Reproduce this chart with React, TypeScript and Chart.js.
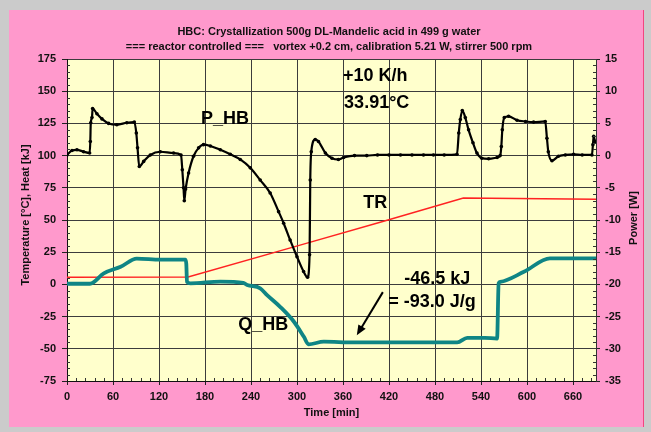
import { useEffect, useRef } from "react";
import { Chart, registerables } from "chart.js";

Chart.register(...registerables);

// ---- chart text ----
const titleLines = [
  "HBC: Crystallization 500g DL-Mandelic acid in 499 g water",
  "=== reactor controlled ===   vortex +0.2 cm, calibration 5.21 W, stirrer 500 rpm",
];
const xTitle = "Time [min]";
const leftTitle = "Temperature [°C], Heat [kJ]";
const rightTitle = "Power [W]";

// ---- axis ranges / tick steps ----
const timeRange = [0, 690];
const timeStep = 60;
const leftRange = [-75, 175];
const leftStep = 25;
const rightRange = [-35, 15];
const rightStep = 5;

// ---- P_HB: heat-flow power [W] (right axis) ----
const pTime = [
  0, 6.5, 13, 21.7, 29.5, 30.4, 31, 32.6, 33.4, 39, 45.6, 54.3, 65, 78, 87.8,
  90.4, 92, 94.3, 100, 108.6, 121.7, 139, 148.7, 150.4, 152, 153, 154.7, 158.6,
  165, 171.7, 178, 187, 200, 213, 226, 239, 252, 265, 276, 282.6, 291, 300,
  308.6, 313.8, 316.4, 317.3, 318.6, 323.8, 328, 337, 345.6, 354, 360.8, 375,
  391, 405, 420, 435, 450, 465, 478, 492, 508.7, 511, 513, 515.6, 519.5, 523.8,
  529.5, 534.7, 541, 550, 561, 565, 566.5, 567.8, 570.4, 576, 587, 598, 608.6,
  623.8, 626, 627.8, 632.6, 641, 650, 660.8, 672, 684.7, 686, 687, 688.7,
];
const pValue = [
  0.1, 0.8, 0.9, 0.6, 0.4, 2.2, 5.1, 5.9, 7.3, 6.5, 5.7, 5.0, 4.8, 5.1, 5.2,
  3.5, 1.2, -1.7, -0.9, 0.1, 0.6, 0.4, 0.1, -2.2, -5.0, -7.0, -5.2, -2.7,
  -0.1, 1.2, 1.7, 1.5, 0.9, 0.2, -0.6, -1.9, -3.8, -5.8, -8.7, -10.5, -13.1, -15.7,
  -18.0, -18.9, -15.4, -3.8, 0.6, 2.5, 2.2, 0.4, -0.4, -0.6, -0.3, 0.0,
  0.0, 0.1, 0.1, 0.1, 0.1, 0.1, 0.1, 0.1, 0.2, 3.5, 5.6, 7.0, 5.9, 4.0,
  2.0, 0.4, -0.4, -0.5, -0.3, 0.0, 1.4, 4.0, 5.9, 6.1, 5.5, 5.3, 5.2,
  5.3, 2.7, 0.6, -0.8, -0.1, 0.1, 0.2, 0.1, 0.1, 1.7, 3.0, 2.2,
];

// ---- TR: reactor temperature [°C] (left axis) ----
const trTime = [0, 158, 304, 413, 517, 690];
const trValue = [5.5, 5.8, 30.5, 49, 67, 66.2];

// ---- Q_HB: accumulated heat [kJ] (left axis) ----
const qTime = [
  0, 30, 48, 70, 91, 122, 154.3, 155.6, 156.5, 161, 200, 230, 235, 252, 261,
  278, 296, 309, 315, 335, 374, 440, 509, 522, 545, 561, 563, 565, 596, 630, 690,
];
const qValue = [
  0.5, 0.5, 8.6, 13.7, 20, 19.2, 19.2, 16, 2, 0.8, 2.2, 1.2, -0.5, -3, -8.3,
  -17.4, -29, -40.7, -46.5, -44.5, -45, -45, -45, -41.5, -41.5, -42, 0.8, 2, 9.8, 20.2, 20.2,
];

const FONT = '"Liberation Sans", Arial, Helvetica, sans-serif';
const GRID = "#3c3c3c";

// in-plot labels, anchored in data units (time, left-axis value)
const notes = [
  { text: "+10 K/h", t: 402, v: 162 },
  { text: "33.91°C", t: 404, v: 141 },
  { text: "P_HB", t: 206, v: 128.5 },
  { text: "TR", t: 402, v: 63 },
  { text: "Q_HB", t: 256, v: -31.5 },
  { text: "-46.5 kJ", t: 483, v: 4 },
  { text: "= -93.0 J/g", t: 476, v: -13.5 },
];
const arrowFrom = { t: 412, v: -6 };
const arrowTo = { t: 378, v: -39.5 };

const zip = (xs: number[], ys: number[]) => xs.map((x, i) => ({ x, y: ys[i] }));

const decorPlugin = {
  id: "decor",
  beforeDraw(chart: any) {
    const { ctx, width, height, chartArea: a } = chart;
    ctx.save();
    ctx.fillStyle = "#cbcbcb";
    ctx.fillRect(0, 0, width, height);
    ctx.fillStyle = "#ff99cc";
    ctx.fillRect(9, 10, 635, 417);
    ctx.fillStyle = "#f2457f";
    ctx.fillRect(643, 10, 1, 417);
    ctx.fillStyle = "#ffffcc";
    ctx.fillRect(a.left, a.top, a.right - a.left, a.bottom - a.top);
    ctx.restore();
  },
  afterDraw(chart: any) {
    const { ctx, chartArea: a, scales } = chart;
    const sx = scales.x;
    const sy = scales.y;
    const sp = scales.yP;
    ctx.save();

    // minor ticks pointing into the plot
    ctx.strokeStyle = "#333";
    ctx.lineWidth = 1;
    ctx.beginPath();
    for (let t = timeRange[0]; t <= timeRange[1]; t += 12) {
      if (t % timeStep === 0) continue;
      const px = Math.round(sx.getPixelForValue(t)) + 0.5;
      ctx.moveTo(px, a.bottom);
      ctx.lineTo(px, a.bottom - 3);
    }
    for (let v = leftRange[0]; v <= leftRange[1]; v += 5) {
      if (v % leftStep === 0) continue;
      const py = Math.round(sy.getPixelForValue(v)) + 0.5;
      ctx.moveTo(a.left, py);
      ctx.lineTo(a.left + 3, py);
    }
    for (let v = rightRange[0]; v <= rightRange[1]; v += 1) {
      if (v % rightStep === 0) continue;
      const py = Math.round(sp.getPixelForValue(v)) + 0.5;
      ctx.moveTo(a.right, py);
      ctx.lineTo(a.right - 3, py);
    }
    ctx.stroke();

    // titles
    ctx.fillStyle = "#111";
    ctx.textAlign = "center";
    ctx.textBaseline = "middle";
    ctx.font = `bold 11px ${FONT}`;
    ctx.fillText(titleLines[0], 329, 32);
    ctx.fillText(titleLines[1], 329, 47);
    ctx.fillText(xTitle, (a.left + a.right) / 2, 413);

    ctx.save();
    ctx.translate(26, 215);
    ctx.rotate(-Math.PI / 2);
    ctx.fillText(leftTitle, 0, 0);
    ctx.restore();

    ctx.save();
    ctx.translate(634, 218);
    ctx.rotate(-Math.PI / 2);
    ctx.fillText(rightTitle, 0, 0);
    ctx.restore();

    // in-plot labels
    ctx.font = `bold 18px ${FONT}`;
    ctx.fillStyle = "#000";
    for (const n of notes) {
      ctx.fillText(n.text, sx.getPixelForValue(n.t), sy.getPixelForValue(n.v));
    }

    // arrow to the Q_HB plateau
    const x1 = sx.getPixelForValue(arrowFrom.t);
    const y1 = sy.getPixelForValue(arrowFrom.v);
    const x2 = sx.getPixelForValue(arrowTo.t);
    const y2 = sy.getPixelForValue(arrowTo.v);
    const ang = Math.atan2(y2 - y1, x2 - x1);
    const head = 11;
    ctx.strokeStyle = "#000";
    ctx.lineWidth = 2;
    ctx.beginPath();
    ctx.moveTo(x1, y1);
    ctx.lineTo(x2 - Math.cos(ang) * head * 0.7, y2 - Math.sin(ang) * head * 0.7);
    ctx.stroke();
    ctx.beginPath();
    ctx.moveTo(x2, y2);
    ctx.lineTo(x2 - head * Math.cos(ang - 0.4), y2 - head * Math.sin(ang - 0.4));
    ctx.lineTo(x2 - head * Math.cos(ang + 0.4), y2 - head * Math.sin(ang + 0.4));
    ctx.closePath();
    ctx.fillStyle = "#000";
    ctx.fill();

    ctx.restore();
  },
};

const tickFont = { family: FONT, size: 11, weight: "bold" as const };

export default function App() {
  const canvasRef = useRef<HTMLCanvasElement | null>(null);

  useEffect(() => {
    const canvas = canvasRef.current;
    if (!canvas) return;
    const chart = new Chart(canvas, {
      type: "line",
      data: {
        datasets: [
          {
            label: "P_HB",
            data: zip(pTime, pValue),
            yAxisID: "yP",
            borderColor: "#000",
            backgroundColor: "#000",
            borderWidth: 2.2,
            pointRadius: 1.8,
            pointBorderWidth: 0,
            pointBackgroundColor: "#000",
            cubicInterpolationMode: "monotone",
            order: 0,
          },
          {
            label: "Q_HB",
            data: zip(qTime, qValue),
            yAxisID: "y",
            borderColor: "#0f8585",
            borderWidth: 3.8,
            pointRadius: 0,
            cubicInterpolationMode: "monotone",
            borderJoinStyle: "round",
            borderCapStyle: "round",
            order: 1,
          },
          {
            label: "TR",
            data: zip(trTime, trValue),
            yAxisID: "y",
            borderColor: "#ff2222",
            borderWidth: 1.5,
            pointRadius: 0,
            tension: 0,
            order: 2,
          },
        ],
      },
      options: {
        animation: false,
        responsive: false,
        events: [],
        layout: { padding: { top: 59, left: 0, right: 0, bottom: 0 } },
        plugins: {
          legend: { display: false },
          tooltip: { enabled: false },
          title: { display: false },
        },
        scales: {
          x: {
            type: "linear",
            min: timeRange[0],
            max: timeRange[1],
            afterFit: (s: any) => {
              s.height = 51;
            },
            ticks: {
              stepSize: timeStep,
              includeBounds: false,
              autoSkip: false,
              maxRotation: 0,
              padding: 5,
              color: "#111",
              font: tickFont,
            },
            grid: {
              color: GRID,
              lineWidth: 1,
              drawTicks: true,
              tickLength: 4,
              tickColor: "#222",
            },
            border: { color: "#111", width: 1 },
          },
          y: {
            type: "linear",
            position: "left",
            min: leftRange[0],
            max: leftRange[1],
            afterFit: (s: any) => {
              s.width = 67;
            },
            ticks: {
              stepSize: leftStep,
              padding: 6,
              color: "#111",
              font: tickFont,
            },
            grid: {
              color: GRID,
              lineWidth: 1,
              drawTicks: true,
              tickLength: 5,
              tickColor: "#222",
            },
            border: { color: "#111", width: 1 },
          },
          yP: {
            type: "linear",
            position: "right",
            min: rightRange[0],
            max: rightRange[1],
            afterFit: (s: any) => {
              s.width = 55;
            },
            ticks: {
              stepSize: rightStep,
              padding: 5,
              color: "#111",
              font: tickFont,
            },
            grid: {
              drawOnChartArea: false,
              drawTicks: true,
              tickLength: 4,
              tickColor: "#222",
            },
            border: { color: "#333", width: 1 },
          },
        },
      },
      plugins: [decorPlugin],
    });
    return () => chart.destroy();
  }, []);

  return (
    <div
      style={{
        position: "fixed",
        left: 0,
        top: 0,
        width: 651,
        height: 432,
        background: "#cbcbcb",
      }}
    >
      <canvas ref={canvasRef} width={651} height={432} style={{ display: "block" }} />
    </div>
  );
}
